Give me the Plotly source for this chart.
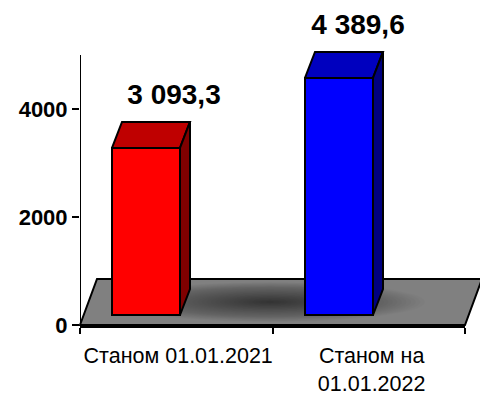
import plotly.graph_objects as go

# Data
categories = ["Станом 01.01.2021", "Станом на<br>01.01.2022"]
values = [3093.3, 4389.6]
value_labels = ["3 093,3", "4 389,6"]
y_ticks = [0, 2000, 4000]
y_axis_extent = [0, 5000]
front_colors = ["#FF0000", "#0000FF"]
top_colors = ["#BF0000", "#0000BF"]
side_colors = ["#800000", "#000080"]

# Layout geometry (pixels)
W, H = 480, 401
L, R, T, B = 80, 15, 1, 76
PW, PH = W - L - R, H - T - B
X_MAX, Y_MAX = 2, 6000
ux, uy = X_MAX / PW, Y_MAX / PH
bar_centers = [(146 - L) * ux, (339 - L) * ux]
bar_width = 68 * ux
base = 10 * uy
dx, dy = 10 * ux, 26 * uy
label_dx = [28 * ux, 19 * ux]
label_dy = 25 * uy


def px(x):
    return (x - L) / PW


def py(y):
    return (H - B - y) / PH


shapes = [dict(type="path", layer="below", xref="paper", yref="paper",
               path=f"M {px(80)} {py(325)} L {px(97)} {py(279)} L {px(482)} {py(279)} L {px(465)} {py(325)} Z",
               fillcolor="#808080", line=dict(color="black", width=2))]
N = 34
for i in range(N):
    f = 1 - i / N
    shapes.append(dict(type="circle", layer="below", xref="paper", yref="paper",
                       x0=px(270 - 155 * f), x1=px(270 + 155 * f),
                       y0=py(302 + 20 * f), y1=py(302 - 20 * f),
                       fillcolor="rgba(0,0,0,0.02)", line=dict(width=0)))

fig = go.Figure()
fig.add_trace(go.Bar(x=bar_centers, y=values, base=[base] * 2, width=[bar_width] * 2,
                     marker=dict(color=front_colors, line=dict(color="black", width=2)),
                     cliponaxis=False, showlegend=False, hoverinfo="skip"))

for c, v, tc, sc in zip(bar_centers, values, top_colors, side_colors):
    xl, xr = c - bar_width / 2, c + bar_width / 2
    yt = base + v
    fig.add_trace(go.Scatter(x=[xl, xl + dx, xr + dx, xr, xl], y=[yt, yt + dy, yt + dy, yt, yt],
                             mode="lines", fill="toself", fillcolor=tc, cliponaxis=False,
                             line=dict(color="black", width=2), showlegend=False, hoverinfo="skip"))
    fig.add_trace(go.Scatter(x=[xr, xr + dx, xr + dx, xr, xr], y=[yt, yt + dy, base + dy, base, yt],
                             mode="lines", fill="toself", fillcolor=sc, cliponaxis=False,
                             line=dict(color="black", width=2), showlegend=False, hoverinfo="skip"))

fig.add_trace(go.Scatter(x=[0, 0], y=y_axis_extent, mode="lines", cliponaxis=False,
                         line=dict(color="black", width=2), showlegend=False, hoverinfo="skip"))

fig.add_trace(go.Scatter(
    x=[c + o for c, o in zip(bar_centers, label_dx)],
    y=[base + v + dy + label_dy for v in values],
    text=value_labels, mode="text", textposition="middle center", cliponaxis=False,
    textfont=dict(family="Liberation Sans", size=28, color="black", weight=700),
    showlegend=False, hoverinfo="skip"))

fig.update_layout(
    width=W, height=H, margin=dict(l=L, r=R, t=T, b=B, pad=0),
    paper_bgcolor="white", plot_bgcolor="rgba(0,0,0,0)", shapes=shapes, showlegend=False,
    xaxis=dict(range=[0, X_MAX], tickmode="array", tickvals=[0.51, 1.515], ticktext=categories,
               ticks="", showgrid=False, zeroline=False, showline=True, linecolor="black", linewidth=3,
               ticklabelstandoff=9,
               tickfont=dict(family="Liberation Sans", size=21.5, color="black"),
               minor=dict(tickmode="array", tickvals=[0, 1, 2], ticks="outside", ticklen=6,
                          tickwidth=2, tickcolor="black", showgrid=False)),
    yaxis=dict(range=[0, Y_MAX], tickmode="array", tickvals=y_ticks, ticks="outside", ticklen=7,
               tickwidth=2, tickcolor="black", showgrid=False, zeroline=False, showline=False,
               tickfont=dict(family="Liberation Sans", size=22, color="black", weight=700)),
)
fig.write_html("out.html", post_script="document.body.style.margin='0';", config=dict(displayModeBar=False))
